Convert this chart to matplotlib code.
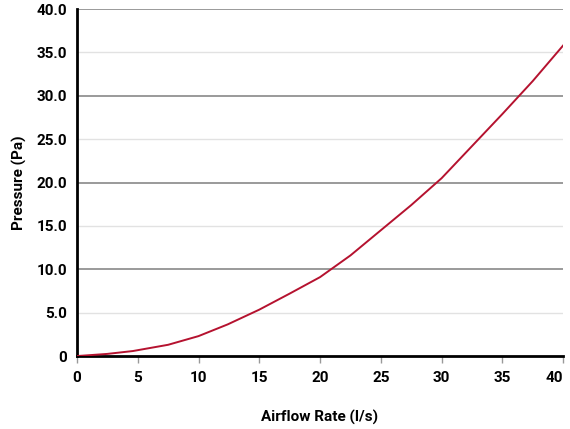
import numpy as np
from matplotlib import pyplot as plt

# 数据
flow = [0, 2.5, 4.6, 7.5, 10, 12.4, 15, 17.5, 20, 22.5, 25, 27.5, 30, 32.5, 35, 37.5, 40]
pressure = [0, 0.25, 0.58, 1.3, 2.3, 3.65, 5.35, 7.2, 9.1, 11.6, 14.5, 17.4, 20.5, 24.2, 27.9, 31.7, 35.8]
xTicks = [0, 5, 10, 15, 20, 25, 30, 35, 40]
yTicks = [0, 5, 10, 15, 20, 25, 30, 35, 40]
yTickLabels = ['0', '5.0', '10.0', '15.0', '20.0', '25.0', '30.0', '35.0', '40.0']

plt.rcParams['font.family'] = ['Roboto', 'DejaVu Sans']

fig = plt.figure(figsize=(5.7, 4.29), dpi=100)
ax = fig.add_axes([0.135, 0.170, 0.853, 0.809])

# 网格线：整十深灰，逢五浅灰
for y in yTicks[1:]:
    if y % 10 == 0:
        ax.axhline(y, color='#9a9a9a', linewidth=1.4, zorder=1)
    else:
        ax.axhline(y, color='#e2e2e2', linewidth=1.0, zorder=1)

ax.plot(flow, pressure, color='#b5122f', linewidth=1.4, zorder=3)

ax.set_xlim(0, 40)
ax.set_ylim(0, 40)
ax.set_xticks(xTicks)
ax.set_yticks(yTicks)
ax.set_yticklabels(yTickLabels)

for side in ['top', 'right']:
    ax.spines[side].set_visible(False)
for side in ['left', 'bottom']:
    ax.spines[side].set_color('black')
    ax.spines[side].set_linewidth(2)

ax.tick_params(axis='x', length=5, width=1, color='#999999', labelsize=11, pad=6)
ax.tick_params(axis='y', length=0, labelsize=11, pad=7)
for label in ax.get_xticklabels() + ax.get_yticklabels():
    label.set_fontweight('semibold')
ax.get_xticklabels()[-1].set_horizontalalignment('right')    # 右端标签不越界

ax.set_xlabel('Airflow Rate (l/s)', fontsize=11, fontweight='semibold', labelpad=18)
ax.set_ylabel('Pressure (Pa)', fontsize=11, fontweight='semibold', labelpad=7)

plt.savefig('out.png', dpi=100)
